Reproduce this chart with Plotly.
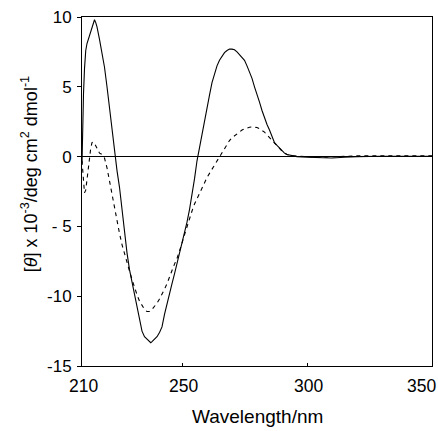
import plotly.graph_objects as go

# Solid curve
wl_solid = [210.0, 210.3, 210.6, 211.0, 211.5, 212.0, 212.5, 213.0, 213.5, 214.0, 214.5, 215.0,
            215.5, 216.0, 217.0, 218.0, 219.0, 220.0, 221.0, 222.0, 223.0, 224.0, 225.0, 226.0,
            227.0, 228.0, 229.0, 230.0, 231.0, 232.0, 233.0, 234.0, 235.0, 236.0, 237.0, 237.5,
            238.0, 239.0, 240.0, 241.0, 242.0, 243.0, 244.0, 245.0, 246.0, 247.0, 248.0, 249.0,
            250.0, 251.0, 252.0, 253.0, 254.0, 255.0, 256.0, 257.0, 258.0, 259.0, 260.0, 261.0,
            262.0, 263.0, 264.0, 265.0, 266.0, 267.0, 268.0, 269.0, 270.0, 271.0, 272.0, 273.0,
            274.0, 275.0, 276.0, 277.0, 278.0, 279.0, 280.0, 281.0, 282.0, 283.0, 284.0, 285.0,
            286.0, 287.0, 288.0, 289.0, 290.0, 291.0, 292.0, 294.0, 296.0, 300.0, 305.0, 310.0,
            315.0, 320.0, 330.0, 340.0, 350.0]
theta_solid = [-0.5, 2.5, 4.5, 6.3, 7.6, 8.1, 8.4, 8.6, 8.9, 9.2, 9.5, 9.8,
               9.6, 9.3, 8.4, 7.4, 6.4, 5.0, 3.5, 1.9, 0.3, -1.0, -2.2, -3.8,
               -5.4, -6.9, -8.1, -9.0, -9.9, -10.8, -11.8, -12.5, -12.9, -13.1, -13.3, -13.33,
               -13.25, -13.1, -12.9, -12.6, -12.2, -11.3, -10.5, -9.8, -9.1, -8.4, -7.7, -7.0,
               -6.3, -5.5, -4.7, -3.8, -2.8, -1.6, -0.3, 0.7, 1.5, 2.4, 3.4, 4.4,
               5.3, 6.0, 6.5, 6.9, 7.2, 7.45, 7.6, 7.7, 7.7, 7.65, 7.5, 7.3,
               7.05, 6.9, 6.5, 6.1, 5.6, 5.0, 4.5, 3.9, 3.3, 2.75, 2.3, 1.9,
               1.4, 1.0, 0.8, 0.6, 0.4, 0.25, 0.15, 0.05, 0.0, -0.05, -0.1, -0.1,
               -0.05, 0.0, 0.02, 0.02, 0.03]

# Dashed curve
wl_dashed = [210.0, 210.5, 211.0, 211.5, 212.0, 212.5, 213.0, 213.5, 214.0, 214.5, 215.0, 215.5,
             216.0, 217.0, 218.0, 219.0, 220.0, 221.0, 222.0, 223.0, 224.0, 225.0, 226.0, 227.0,
             228.0, 229.0, 230.0, 231.0, 232.0, 233.0, 234.0, 235.0, 236.0, 237.0, 238.0, 239.0,
             240.0, 241.0, 242.0, 243.0, 244.0, 245.0, 246.0, 247.0, 248.0, 249.0, 250.0, 251.0,
             252.0, 253.0, 254.0, 255.0, 256.0, 257.0, 258.0, 259.0, 260.0, 261.0, 262.0, 263.0,
             264.0, 265.0, 266.0, 267.0, 268.0, 269.0, 270.0, 271.0, 272.0, 273.0, 274.0, 275.0,
             276.0, 277.0, 278.0, 279.0, 280.0, 281.0, 282.0, 283.0, 284.0, 285.0, 286.0, 287.0,
             288.0, 289.0, 290.0, 291.0, 292.0, 294.0, 296.0, 300.0, 305.0, 310.0, 315.0, 320.0,
             330.0, 340.0, 350.0]
theta_dashed = [-0.3, -1.8, -2.6, -2.4, -1.6, -0.8, -0.2, 0.6, 1.0, 1.05, 0.95, 0.8,
                0.55, 0.25, 0.15, -0.1, -0.8, -1.8, -2.5, -3.5, -4.7, -5.5, -6.3, -7.0,
                -7.6, -8.2, -8.8, -9.4, -9.9, -10.35, -10.7, -10.95, -11.1, -11.1, -10.95, -10.75,
                -10.5, -10.2, -9.9, -9.5, -9.1, -8.6, -8.2, -7.7, -7.3, -6.8, -6.2, -5.6,
                -5.0, -4.4, -3.9, -3.4, -3.0, -2.6, -2.2, -1.85, -1.5, -1.2, -0.9, -0.6,
                -0.3, 0.0, 0.3, 0.6, 0.9, 1.15, 1.35, 1.5, 1.65, 1.8, 1.9, 1.98,
                2.05, 2.1, 2.12, 2.12, 2.08, 2.0, 1.9, 1.75, 1.55, 1.35, 1.15, 0.95,
                0.75, 0.55, 0.4, 0.25, 0.15, 0.05, 0.05, 0.0, -0.05, 0.0, 0.05, 0.05,
                0.05, 0.05, 0.05]

x_ticks = [210, 250, 300, 350]
x_tick_labels = ["210", "250", "300", "350"]
y_ticks = [10, 5, 0, -5, -10, -15]
y_tick_labels = ["10", "5", "0", "- 5", "-10", "-15"]
x_title = "Wavelength/nm"
y_title = "[<i>θ</i>] x 10<sup>-3</sup>/deg cm<sup>2</sup> dmol<sup>-1</sup>"

FONT = "Liberation Sans, Arial, sans-serif"

fig = go.Figure()
fig.add_trace(go.Scatter(x=wl_solid, y=theta_solid, mode="lines",
                         line=dict(color="black", width=1.1), showlegend=False))
fig.add_trace(go.Scatter(x=wl_dashed, y=theta_dashed, mode="lines",
                         line=dict(color="black", width=1.1, dash="4px,4px"), showlegend=False))

# x tick labels (last one pulled inside the page as in the original)
for v, t in zip(x_ticks, x_tick_labels):
    last = v == x_ticks[-1]
    fig.add_annotation(x=v, xref="x", y=0, yref="paper", text=t, showarrow=False,
                       xanchor="right" if last else "center", yanchor="middle",
                       xshift=6 if last else 1, yshift=-20,
                       font=dict(family=FONT, size=17.5, color="black"))

fig.add_annotation(x=0.5, xref="paper", y=0, yref="paper", text=x_title, showarrow=False,
                   xanchor="center", yanchor="middle", yshift=-50,
                   font=dict(family=FONT, size=19, color="black"))
fig.add_annotation(x=-0.151, xref="paper", y=0.55, yref="paper", text=y_title, showarrow=False,
                   textangle=-90, xanchor="center", yanchor="middle",
                   font=dict(family=FONT, size=18, color="black"))

fig.update_layout(
    width=438, height=431,
    margin=dict(l=82, r=6, t=17, b=65),
    paper_bgcolor="white", plot_bgcolor="white",
    font=dict(family=FONT, size=17, color="black"),
    xaxis=dict(range=[210, 350], tickvals=x_ticks, showticklabels=False, automargin=False,
               showgrid=False, zeroline=False, showline=True, linecolor="black", linewidth=1,
               mirror=True, ticks="inside", ticklen=3, tickcolor="black"),
    yaxis=dict(range=[-15, 10], tickvals=y_ticks, ticktext=y_tick_labels, automargin=False,
               showgrid=False, zeroline=True, zerolinecolor="black", zerolinewidth=1.3,
               showline=True, linecolor="black", linewidth=1, mirror=True,
               ticks="outside", ticklen=4, tickcolor="black", ticklabelstandoff=2,
               tickfont=dict(size=17)),
)

fig.write_html("out.html", config={"displayModeBar": False},
               post_script="document.body.style.margin='0';document.body.style.overflow='hidden';")
